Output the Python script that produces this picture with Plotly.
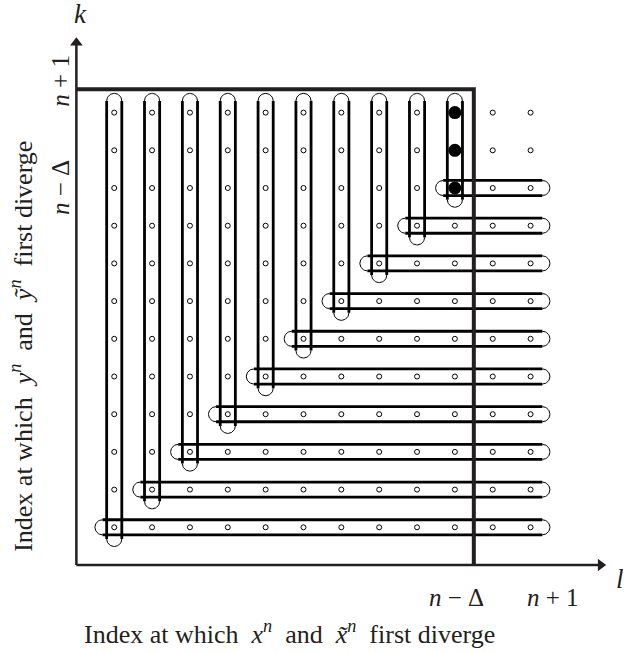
import numpy as np
import plotly.graph_objects as go

# ---- data ----
grid_cols = [1, 2, 3, 4, 5, 6, 7, 8, 9, 10, 11, 12]   # l indices
grid_rows = [1, 2, 3, 4, 5, 6, 7, 8, 9, 10, 11, 12]   # k indices
pill_index = [1, 2, 3, 4, 5, 6, 7, 8, 9, 10]          # each i: column pill + row pill
filled_l = [10, 10, 10]
filled_k = [10, 11, 12]
n_minus_delta = 10          # position of n - Delta
boundary_l = 10.5           # thick vertical boundary
boundary_k = 12.62          # thick horizontal boundary
n_plus_one = 12.6           # position of n + 1 label
x_tick_labels = ["<i>n</i> − Δ", "<i>n</i> + 1"]
y_tick_labels = ["<i>n</i> − Δ", "<i>n</i> + 1"]
x_title = "Index at which&nbsp; <i>x</i><sup><i>n</i></sup>&nbsp; and&nbsp; <i>x̃</i><sup><i>n</i></sup>&nbsp; first diverge"
y_title = "Index at which&nbsp; <i>y</i><sup><i>n</i></sup>&nbsp; and&nbsp; <i>ỹ</i><sup><i>n</i></sup>&nbsp; first diverge"

R = 0.2      # pill half width
EXT = 0.31   # cap centre offset beyond end dots
lmax, kmax = max(grid_cols), max(grid_rows)

thick_x, thick_y, thin_x, thin_y = [], [], [], []
t = np.linspace(0, np.pi, 30)

def add_seg(xs, ys, a, b):
    xs.extend(list(a) + [None]); ys.extend(list(b) + [None])

for i in pill_index:
    # vertical pill around column i, from row i up to top row
    k0, k1 = i - EXT, kmax + EXT
    add_seg(thick_x, thick_y, [i - R, i - R], [k0, k1])
    add_seg(thick_x, thick_y, [i + R, i + R], [k0, k1])
    add_seg(thin_x, thin_y, i + R * np.cos(t), k1 + R * np.sin(t))
    add_seg(thin_x, thin_y, i + R * np.cos(t), k0 - R * np.sin(t))
    # horizontal pill around row i, from column i to last column
    l0, l1 = i - EXT, lmax + EXT
    add_seg(thick_x, thick_y, [l0, l1], [i - R, i - R])
    add_seg(thick_x, thick_y, [l0, l1], [i + R, i + R])
    add_seg(thin_x, thin_y, l1 + R * np.sin(t), i + R * np.cos(t))
    add_seg(thin_x, thin_y, l0 - R * np.sin(t), i + R * np.cos(t))

gx, gy = np.meshgrid(grid_cols, grid_rows)
AX_END = 13.85
ink = "#231f20"

fig = go.Figure()
fig.add_trace(go.Scatter(x=thin_x, y=thin_y, mode="lines",
                         line=dict(color="black", width=1), hoverinfo="skip"))
fig.add_trace(go.Scatter(x=thick_x, y=thick_y, mode="lines",
                         line=dict(color="black", width=2.8), hoverinfo="skip"))
# boundary frame
fig.add_trace(go.Scatter(x=[0, boundary_l, boundary_l], y=[boundary_k, boundary_k, 0],
                         mode="lines", line=dict(color=ink, width=4), hoverinfo="skip"))
# axes
fig.add_trace(go.Scatter(x=[0, AX_END, None, 0, 0], y=[0, 0, None, 0, AX_END], mode="lines",
                         line=dict(color=ink, width=2.5), hoverinfo="skip"))
fig.add_trace(go.Scatter(x=[AX_END], y=[0], mode="markers",
                         marker=dict(symbol="triangle-right", size=11, color=ink), hoverinfo="skip"))
fig.add_trace(go.Scatter(x=[0], y=[AX_END], mode="markers",
                         marker=dict(symbol="triangle-up", size=11, color=ink), hoverinfo="skip"))
fig.add_trace(go.Scatter(x=gx.ravel(), y=gy.ravel(), mode="markers",
                         marker=dict(symbol="circle", size=5, color="white",
                                     line=dict(color="black", width=1)), hoverinfo="skip"))
fig.add_trace(go.Scatter(x=filled_l, y=filled_k, mode="markers",
                         marker=dict(symbol="circle", size=13, color="black"), hoverinfo="skip"))

ann = []
lfont = dict(family="Liberation Serif", size=27, color=ink)
font = dict(family="Liberation Serif", size=25, color=ink)
ann.append(dict(x=0.1, y=14.62, text="<i>k</i>", showarrow=False, font=lfont))
ann.append(dict(x=14.35, y=-0.38, text="<i>l</i>", showarrow=False, font=lfont))
ann.append(dict(x=n_minus_delta + 0.05, y=-0.85, text=x_tick_labels[0], showarrow=False, font=font))
ann.append(dict(x=n_plus_one, y=-0.85, text=x_tick_labels[1], showarrow=False, font=font))
ann.append(dict(x=-0.43, y=n_minus_delta, text=y_tick_labels[0], showarrow=False, font=font, textangle=-90))
ann.append(dict(x=-0.43, y=12.85, text=y_tick_labels[1], showarrow=False, font=font, textangle=-90))
tfont = dict(family="Liberation Serif", size=26, color=ink)
ann.append(dict(x=5.64, y=-1.8, text=x_title, showarrow=False, font=tfont))
ann.append(dict(x=-1.45, y=5.8, text=y_title, showarrow=False, font=tfont, textangle=-90))

fig.update_layout(
    width=627, height=652, margin=dict(l=0, r=0, t=0, b=0),
    paper_bgcolor="white", plot_bgcolor="white", showlegend=False,
    xaxis=dict(range=[-2.018, 14.547], visible=False, fixedrange=True),
    yaxis=dict(range=[-2.308, 14.987], visible=False, fixedrange=True),
    annotations=ann,
)
fig.write_html("out.html", config={"displayModeBar": False},
               post_script="document.body.style.margin='0';document.body.style.overflow='hidden';")
